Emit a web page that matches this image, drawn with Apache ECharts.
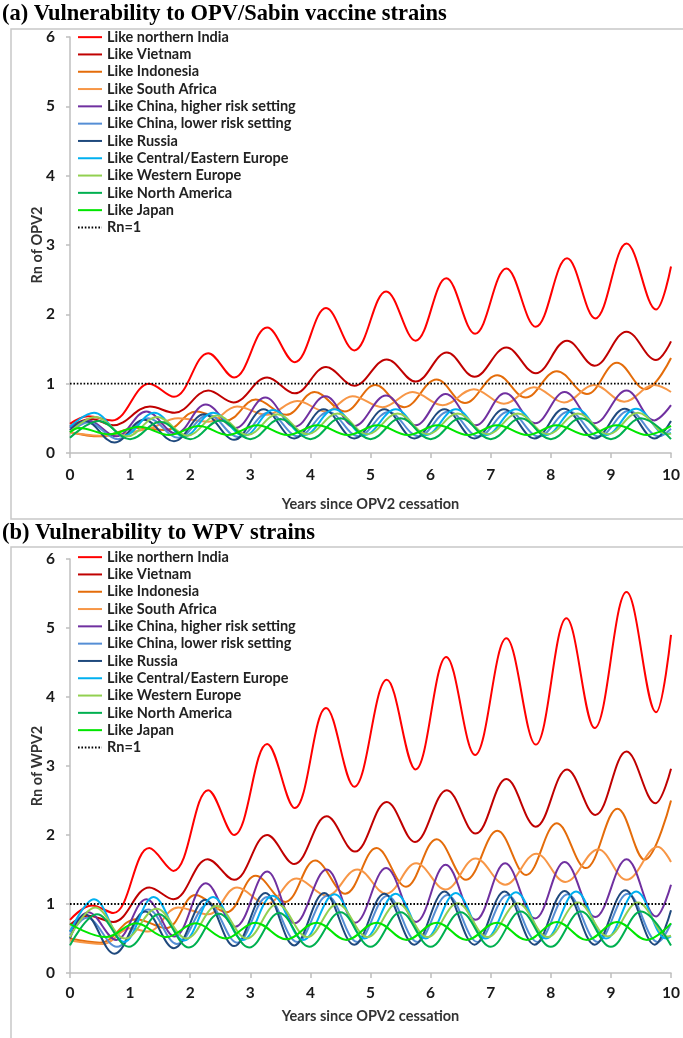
<!DOCTYPE html>
<html>
<head>
<meta charset="utf-8">
<script src="https://cdn.jsdelivr.net/npm/echarts@6/dist/echarts.min.js"></script>
<style>
  html, body { margin: 0; padding: 0; background: #fff; }
  #chart { width: 683px; height: 1038px; }
</style>
</head>
<body>
<div id="chart"></div>
<script>
// legend names and colours (Excel-like palette)
var names = ['Like northern India', 'Like Vietnam', 'Like Indonesia', 'Like South Africa',
  'Like China, higher risk setting', 'Like China, lower risk setting', 'Like Russia',
  'Like Central/Eastern Europe', 'Like Western Europe', 'Like North America', 'Like Japan'];
var colors = ['#ff0000', '#c00000', '#e46c0a', '#f79646', '#7030a0', '#558ed5', '#1f497d',
  '#00b0f0', '#92d050', '#00b050', '#00e600'];
var xTicks = [0, 10, 1];
var yTicks = [0, 6, 1];
var rnOne = [[0, 1], [10, 1]];

// panel (a): Rn of OPV2, [years, Rn] read at peaks/troughs
var indiaA = [[0,0.42],[0.3,0.53],[0.7,0.47],[1.32,1.0],[1.73,0.81],[2.3,1.44],[2.73,1.09],[3.28,1.81],[3.74,1.31],[4.26,2.09],[4.73,1.48],[5.26,2.33],[5.75,1.62],[6.26,2.52],[6.74,1.72],[7.26,2.66],[7.75,1.82],[8.27,2.81],[8.74,1.94],[9.26,3.02],[9.75,2.07],[10,2.69]];
var vietnamA = [[0,0.38],[0.35,0.49],[0.72,0.4],[1.33,0.67],[1.74,0.58],[2.3,0.9],[2.72,0.73],[3.28,1.09],[3.74,0.86],[4.26,1.24],[4.73,0.97],[5.27,1.35],[5.75,1.03],[6.27,1.45],[6.73,1.1],[7.26,1.52],[7.75,1.15],[8.27,1.62],[8.73,1.26],[9.26,1.75],[9.75,1.34],[10,1.61]];
var indonesiaA = [[0,0.3],[0.5,0.24],[1.1,0.36],[1.6,0.33],[2.1,0.6],[2.6,0.47],[3.09,0.77],[3.6,0.55],[4.07,0.88],[4.57,0.6],[5.08,0.98],[5.56,0.66],[6.1,1.06],[6.57,0.72],[7.11,1.12],[7.58,0.8],[8.1,1.18],[8.6,0.85],[9.1,1.3],[9.57,0.92],[10,1.37]];
var southAfricaA = [[0,0.3],[0.5,0.25],[1.3,0.35],[1.8,0.5],[2.3,0.45],[2.78,0.67],[3.27,0.55],[3.78,0.75],[4.25,0.6],[4.7,0.82],[5.2,0.66],[5.7,0.88],[6.2,0.69],[6.72,0.92],[7.22,0.71],[7.72,0.95],[8.22,0.73],[8.72,0.98],[9.22,0.74],[9.72,0.98],[10,0.88]];
var chinaHighA = [[0,0.36],[0.3,0.47],[0.77,0.24],[1.27,0.6],[1.76,0.28],[2.26,0.7],[2.75,0.36],[3.25,0.8],[3.74,0.38],[4.25,0.82],[4.73,0.39],[5.26,0.83],[5.75,0.4],[6.25,0.85],[6.75,0.4],[7.24,0.86],[7.74,0.43],[8.23,0.88],[8.73,0.43],[9.26,0.9],[9.72,0.47],[10,0.69]];
var chinaLowA = [[0,0.3],[0.3,0.44],[0.8,0.2],[1.3,0.5],[1.8,0.22],[2.3,0.55],[2.8,0.23],[3.3,0.58],[3.8,0.24],[4.3,0.59],[4.8,0.24],[5.3,0.59],[5.8,0.24],[6.3,0.6],[6.8,0.24],[7.3,0.6],[7.8,0.24],[8.3,0.6],[8.8,0.24],[9.3,0.61],[9.8,0.24],[10,0.35]];
var russiaA = [[0,0.33],[0.25,0.46],[0.74,0.15],[1.23,0.48],[1.73,0.17],[2.23,0.56],[2.73,0.19],[3.22,0.63],[3.73,0.21],[4.22,0.63],[4.73,0.21],[5.23,0.63],[5.73,0.21],[6.23,0.63],[6.73,0.21],[7.22,0.63],[7.73,0.21],[8.22,0.64],[8.73,0.21],[9.23,0.64],[9.73,0.21],[10,0.46]];
var ceEuropeA = [[0,0.38],[0.4,0.58],[0.9,0.25],[1.4,0.58],[1.9,0.24],[2.38,0.58],[2.9,0.25],[3.38,0.62],[3.9,0.26],[4.4,0.63],[4.9,0.26],[5.42,0.63],[5.92,0.26],[6.42,0.63],[6.92,0.26],[7.42,0.63],[7.92,0.26],[8.42,0.64],[8.92,0.26],[9.42,0.64],[9.92,0.27],[10,0.29]];
var wEuropeA = [[0,0.3],[0.42,0.52],[0.95,0.24],[1.45,0.52],[1.95,0.25],[2.45,0.54],[2.95,0.26],[3.45,0.56],[3.95,0.27],[4.45,0.57],[4.95,0.27],[5.45,0.57],[5.95,0.27],[6.45,0.57],[6.95,0.27],[7.45,0.57],[7.95,0.27],[8.45,0.57],[8.95,0.27],[9.45,0.58],[9.95,0.27],[10,0.28]];
var nAmericaA = [[0,0.22],[0.48,0.46],[1,0.2],[1.5,0.45],[2,0.2],[2.5,0.47],[3,0.2],[3.5,0.49],[4,0.2],[4.5,0.5],[5,0.2],[5.5,0.5],[6,0.2],[6.5,0.5],[7,0.2],[7.5,0.5],[8,0.2],[8.5,0.5],[9,0.2],[9.5,0.5],[10,0.2]];
var japanA = [[0,0.3],[0.15,0.36],[0.65,0.27],[1.15,0.38],[1.65,0.26],[2.15,0.39],[2.62,0.26],[3.12,0.4],[3.62,0.26],[4.12,0.4],[4.62,0.26],[5.12,0.4],[5.62,0.26],[6.12,0.4],[6.62,0.26],[7.11,0.4],[7.61,0.26],[8.1,0.4],[8.6,0.26],[9.1,0.4],[9.6,0.26],[10,0.39]];

// panel (b): Rn of WPV2
var indiaB = [[0,0.77],[0.36,0.98],[0.72,0.87],[1.32,1.81],[1.72,1.48],[2.3,2.65],[2.73,2.0],[3.28,3.32],[3.74,2.39],[4.26,3.84],[4.73,2.7],[5.27,4.25],[5.75,2.95],[6.26,4.58],[6.74,3.16],[7.26,4.85],[7.75,3.31],[8.26,5.14],[8.73,3.55],[9.26,5.52],[9.75,3.78],[10,4.9]];
var vietnamB = [[0,0.7],[0.3,0.83],[0.72,0.74],[1.32,1.24],[1.72,1.07],[2.29,1.65],[2.73,1.35],[3.28,2.0],[3.73,1.58],[4.27,2.27],[4.74,1.76],[5.27,2.48],[5.74,1.9],[6.27,2.65],[6.75,2.02],[7.26,2.81],[7.75,2.12],[8.27,2.95],[8.74,2.29],[9.26,3.21],[9.74,2.46],[10,2.96]];
var indonesiaB = [[0,0.5],[0.5,0.44],[1.1,0.78],[1.6,0.65],[2.09,1.13],[2.6,0.88],[3.09,1.41],[3.58,1.03],[4.08,1.63],[4.58,1.15],[5.1,1.81],[5.59,1.25],[6.1,1.94],[6.59,1.35],[7.11,2.06],[7.59,1.42],[8.1,2.17],[8.58,1.52],[9.11,2.38],[9.56,1.64],[10,2.5]];
var southAfricaB = [[0,0.47],[0.55,0.42],[1.0,0.65],[1.3,0.6],[1.8,0.95],[2.3,0.85],[2.78,1.24],[3.27,1.0],[3.77,1.37],[4.27,1.12],[4.78,1.5],[5.26,1.15],[5.76,1.59],[6.25,1.21],[6.75,1.66],[7.24,1.28],[7.76,1.73],[8.24,1.32],[8.79,1.79],[9.26,1.35],[9.78,1.83],[10,1.61]];
var chinaHighB = [[0,0.6],[0.3,0.88],[0.77,0.48],[1.27,1.07],[1.74,0.53],[2.26,1.3],[2.75,0.67],[3.28,1.47],[3.74,0.72],[4.27,1.5],[4.75,0.73],[5.26,1.52],[5.76,0.74],[6.25,1.57],[6.75,0.77],[7.24,1.59],[7.74,0.79],[8.23,1.61],[8.74,0.81],[9.26,1.65],[9.75,0.82],[10,1.28]];
var chinaLowB = [[0,0.55],[0.28,0.8],[0.78,0.38],[1.3,0.92],[1.78,0.42],[2.3,1.0],[2.78,0.44],[3.28,1.1],[3.78,0.45],[4.28,1.12],[4.78,0.45],[5.28,1.12],[5.78,0.45],[6.28,1.13],[6.78,0.45],[7.28,1.13],[7.78,0.45],[8.28,1.14],[8.78,0.45],[9.28,1.15],[9.78,0.45],[10,0.72]];
var russiaB = [[0,0.5],[0.25,0.85],[0.74,0.28],[1.25,0.89],[1.73,0.36],[2.25,1.06],[2.73,0.39],[3.25,1.16],[3.73,0.4],[4.23,1.16],[4.73,0.41],[5.23,1.15],[5.73,0.41],[6.23,1.18],[6.73,0.41],[7.23,1.18],[7.73,0.41],[8.23,1.19],[8.73,0.41],[9.24,1.2],[9.73,0.41],[10,0.91]];
var ceEuropeB = [[0,0.6],[0.4,1.07],[0.9,0.45],[1.39,1.1],[1.9,0.47],[2.38,1.1],[2.88,0.48],[3.37,1.12],[3.88,0.48],[4.4,1.14],[4.9,0.5],[5.42,1.15],[5.92,0.5],[6.42,1.16],[6.92,0.5],[7.42,1.17],[7.92,0.5],[8.42,1.18],[8.92,0.5],[9.42,1.18],[9.92,0.5],[10,0.53]];
var wEuropeB = [[0,0.52],[0.42,0.95],[0.92,0.5],[1.44,0.93],[1.94,0.5],[2.44,0.97],[2.94,0.5],[3.45,1.0],[3.95,0.52],[4.45,1.0],[4.95,0.52],[5.45,1.01],[5.95,0.52],[6.45,1.01],[6.95,0.52],[7.45,1.01],[7.95,0.52],[8.45,1.02],[8.95,0.53],[9.45,1.02],[9.95,0.53],[10,0.54]];
var nAmericaB = [[0,0.4],[0.45,0.85],[0.98,0.38],[1.48,0.85],[1.98,0.37],[2.48,0.86],[2.98,0.37],[3.48,0.87],[3.98,0.38],[4.5,0.88],[5,0.38],[5.5,0.88],[6,0.38],[6.5,0.88],[7,0.38],[7.5,0.89],[8,0.38],[8.5,0.89],[9,0.38],[9.5,0.89],[10,0.4]];
var japanB = [[0,0.71],[0.6,0.52],[1.1,0.72],[1.6,0.52],[2.09,0.72],[2.59,0.5],[3.08,0.73],[3.6,0.49],[4.1,0.73],[4.6,0.48],[5.1,0.73],[5.6,0.48],[6.1,0.73],[6.6,0.48],[7.1,0.73],[7.6,0.48],[8.1,0.74],[8.6,0.48],[9.1,0.74],[9.6,0.48],[10,0.72]];

var panelA = [indiaA, vietnamA, indonesiaA, southAfricaA, chinaHighA, chinaLowA, russiaA, ceEuropeA, wEuropeA, nAmericaA, japanA];
var panelB = [indiaB, vietnamB, indonesiaB, southAfricaB, chinaHighB, chinaLowB, russiaB, ceEuropeB, wEuropeB, nAmericaB, japanB];

var sans = 'Lato';
var axisGray = '#bfbfbf';

function makeSeries(list, idx) {
  var out = [];
  for (var i = 0; i < list.length; i++) {
    out.push({
      name: names[i], type: 'line', xAxisIndex: idx, yAxisIndex: idx,
      data: list[i], smooth: 0.38, symbol: 'none',
      lineStyle: { color: colors[i], width: 2 }, itemStyle: { color: colors[i] }
    });
  }
  out.push({
    name: 'Rn=1', type: 'line', xAxisIndex: idx, yAxisIndex: idx, data: rnOne, symbol: 'none',
    lineStyle: { color: '#000', width: 1.8, type: [1.6, 1.8] }, itemStyle: { color: '#000' }
  });
  return out;
}

function xAx(idx, gap, margin) {
  return {
    type: 'value', gridIndex: idx, min: xTicks[0], max: xTicks[1], interval: xTicks[2],
    name: 'Years since OPV2 cessation', nameLocation: 'middle', nameGap: gap, nameMoveOverlap: false,
    nameTextStyle: { fontFamily: sans, fontWeight: 'bold', fontSize: 14.5, color: '#333' },
    axisLine: { lineStyle: { color: axisGray, width: 1.5 } },
    axisTick: { length: 5, lineStyle: { color: axisGray, width: 1.5 } },
    axisLabel: { fontFamily: sans, fontWeight: 'bold', fontSize: 15.5, color: '#1a1a1a', margin: margin },
    splitLine: { show: false }
  };
}
function yAx(idx, nm) {
  return {
    type: 'value', gridIndex: idx, min: yTicks[0], max: yTicks[1], interval: yTicks[2],
    name: nm, nameLocation: 'middle', nameGap: 25, nameRotate: 90, nameMoveOverlap: false,
    nameTextStyle: { fontFamily: sans, fontWeight: 'bold', fontSize: 14.5, color: '#333' },
    axisLine: { show: true, lineStyle: { color: axisGray, width: 1.5 } },
    axisTick: { show: true, length: 4, lineStyle: { color: axisGray, width: 1.5 } },
    axisLabel: { fontFamily: sans, fontWeight: 'bold', fontSize: 15.5, color: '#1a1a1a', margin: 15 },
    splitLine: { show: false }
  };
}
function legendAt(top) {
  return {
    orient: 'vertical', left: 77, top: top, itemWidth: 24, itemHeight: 17.3, itemGap: 0,
    padding: 0, selectedMode: false,
    itemStyle: { opacity: 0 },
    textStyle: { fontFamily: sans, fontWeight: 'bold', fontSize: 14.5, color: '#222', lineHeight: 17.3 },
    data: names.concat(['Rn=1'])
  };
}

var chart = echarts.init(document.getElementById('chart'));
var option = {
  animation: false,
  backgroundColor: '#fff',
  title: [
    { text: '(a) Vulnerability to OPV/Sabin vaccine strains', left: 2, top: 3, padding: 0,
      textStyle: { fontFamily: 'Liberation Serif', fontWeight: 'bold', fontSize: 22.5, color: '#000' } },
    { text: '(b) Vulnerability to WPV strains', left: 2, top: 522, padding: 0,
      textStyle: { fontFamily: 'Liberation Serif', fontWeight: 'bold', fontSize: 22.5, color: '#000' } }
  ],
  graphic: [
    { type: 'rect', shape: { x: 11, y: 29, width: 680, height: 490 }, style: { fill: 'none', stroke: '#c8c8c8', lineWidth: 1.5 }, silent: true },
    { type: 'rect', shape: { x: 11, y: 547, width: 680, height: 500 }, style: { fill: 'none', stroke: '#c8c8c8', lineWidth: 1.5 }, silent: true }
  ],
  legend: [legendAt(28.5), legendAt(548.5)],
  grid: [
    { left: 70, right: 8, top: 37, height: 416 },
    { left: 70, right: 8, top: 559, height: 414 }
  ],
  xAxis: [xAx(0, 44, 14), xAx(1, 36, 12)],
  yAxis: [yAx(0, 'Rn of OPV2'), yAx(1, 'Rn of WPV2')],
  series: makeSeries(panelA, 0).concat(makeSeries(panelB, 1))
};
chart.setOption(option);
</script>
</body>
</html>
